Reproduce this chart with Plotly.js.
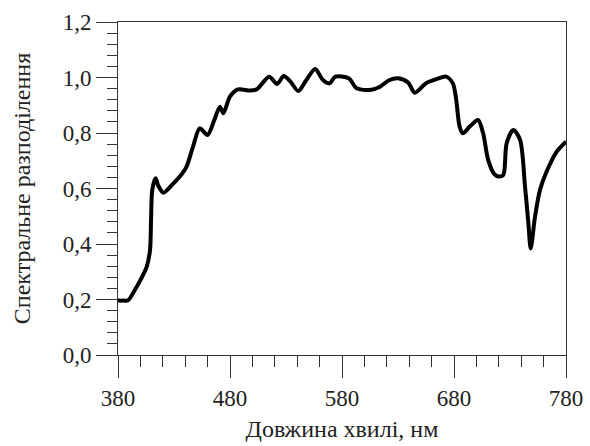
<!DOCTYPE html>
<html>
<head>
<meta charset="utf-8">
<script src="https://cdn.plot.ly/plotly-3.0.1.min.js"></script>
<style>html,body{margin:0;padding:0;background:#fff;}#chart{width:590px;height:446px;}</style>
</head>
<body>
<div id="chart"></div>
<script>
const wavelength = [380,385,389,395,400,405.6,408.6,409.5,410.6,413.6,416,420.5,428,435,441,447,453,460,466,471,474,480,487,498,504,515,522,528,534,541,548,556,563,569,574,586,593,605,614,622,630,639,645,655,665,673,679,682,685,688,694,701.5,706,710.5,716,720,724,727,733,739,743.4,746.4,748.5,752.3,756.8,762.7,771.7,780];
const distribution = [0.196,0.196,0.197,0.234,0.27,0.318,0.378,0.486,0.595,0.637,0.61,0.585,0.612,0.642,0.677,0.751,0.817,0.793,0.847,0.895,0.871,0.931,0.957,0.953,0.958,1.003,0.977,1.005,0.985,0.951,0.99,1.031,0.991,0.979,1.003,0.997,0.961,0.955,0.967,0.99,0.997,0.982,0.945,0.979,0.995,1.003,0.979,0.919,0.823,0.799,0.823,0.847,0.799,0.703,0.652,0.643,0.649,0.763,0.811,0.775,0.607,0.475,0.384,0.498,0.595,0.661,0.733,0.769];
const xTicks = [380,480,580,680,780];
const yTicks = [0,0.2,0.4,0.6,0.8,1.0,1.2];
const xTitle = 'Довжина хвилі, нм';
const yTitle = 'Спектральне разподілення';

const tickFont = {family:'Liberation Serif, Times New Roman, serif', size:23, color:'#222'};
const titleFont = {family:'Liberation Serif, Times New Roman, serif', size:24, color:'#222'};
Plotly.newPlot('chart', [{
  x: wavelength, y: distribution, type:'scatter', mode:'lines',
  line:{color:'#000', width:4, shape:'spline', smoothing:0.8}, hoverinfo:'skip'
}], {
  width:590, height:446,
  margin:{l:118, r:24, t:22, b:91},
  paper_bgcolor:'#fff', plot_bgcolor:'#fff',
  separators:', ',
  font: tickFont,
  showlegend:false,
  xaxis:{
    range:[380,780], tickvals:xTicks, ticks:'outside', ticklen:22, tickwidth:1, tickcolor:'#333',
    minor:{dtick:20, tick0:380, ticks:'outside', ticklen:11, tickwidth:1, tickcolor:'#333'},
    showline:true, linecolor:'#333', linewidth:1, mirror:true, showgrid:false, zeroline:false,
    tickfont:tickFont, title:{text:xTitle, font:titleFont, standoff:10}
  },
  yaxis:{
    range:[0,1.2], tickvals:yTicks, tickformat:'.1f', ticks:'outside', ticklen:21, tickwidth:1, tickcolor:'#333',
    minor:{dtick:0.04, tick0:0, ticks:'outside', ticklen:10, tickwidth:1, tickcolor:'#333'},
    showline:true, linecolor:'#333', linewidth:1, mirror:true, showgrid:false, zeroline:false,
    tickfont:tickFont, title:{text:yTitle, font:titleFont, standoff:25}
  }
}, {staticPlot:true});
</script>
</body>
</html>
